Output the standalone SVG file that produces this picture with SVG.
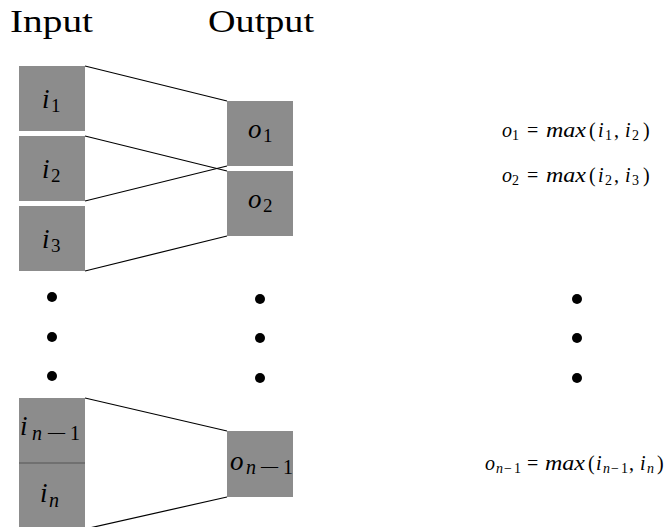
<svg xmlns="http://www.w3.org/2000/svg" width="672" height="527" viewBox="0 0 672 527">
  <style>
    .box { fill: #8c8c8c; }
    .title { font-family: "Liberation Serif", serif; font-size: 32px; fill: #000; }
    .var { font-family: "Liberation Serif", serif; font-style: italic; font-size: 27px; fill: #000; }
    .sub { font-family: "Liberation Serif", serif; font-size: 19px; fill: #000; font-style: normal; }
    .subi { font-family: "Liberation Serif", serif; font-size: 20px; fill: #000; font-style: italic; }
    .eq { font-family: "Liberation Serif", serif; font-size: 20px; fill: #000; }
    .eq .it { font-style: italic; }
    .eq .s { font-size: 14px; }
    .link { stroke: #000; stroke-width: 1.2; fill: none; }
    .dot { fill: #000; }
  </style>
  <rect width="672" height="527" fill="#fff"/>

  <!-- column headings -->
  <text class="title" x="10" y="32" textLength="83" lengthAdjust="spacingAndGlyphs">Input</text>
  <text class="title" x="208" y="32" textLength="106" lengthAdjust="spacingAndGlyphs">Output</text>

  <!-- connectors between inputs and outputs -->
  <g id="connectors">
    <line class="link" x1="85" y1="66" x2="227" y2="101"/>
    <line class="link" x1="85" y1="136" x2="227" y2="171"/>
    <line class="link" x1="85" y1="201" x2="227" y2="166"/>
    <line class="link" x1="85" y1="271" x2="227" y2="236"/>
    <line class="link" x1="85" y1="398" x2="227" y2="431"/>
    <line class="link" x1="85" y1="529" x2="227" y2="497"/>
  </g>

  <!-- input cells -->
  <g id="i1">
    <rect class="box" x="19" y="66" width="66" height="65"/>
    <text class="var" x="42" y="108">i</text>
    <text class="sub" x="51" y="112">1</text>
  </g>
  <g id="i2">
    <rect class="box" x="19" y="136" width="66" height="65"/>
    <text class="var" x="42" y="178">i</text>
    <text class="sub" x="51" y="182">2</text>
  </g>
  <g id="i3">
    <rect class="box" x="19" y="206" width="66" height="65"/>
    <text class="var" x="42" y="248">i</text>
    <text class="sub" x="51" y="252">3</text>
  </g>
  <g id="in-1">
    <rect class="box" x="19" y="398" width="66" height="65"/>
    <text class="var" x="20" y="435">i</text>
    <text class="subi" y="440"><tspan x="32">n</tspan><tspan x="46" font-style="normal" textLength="21" lengthAdjust="spacingAndGlyphs">−</tspan><tspan x="70" font-style="normal">1</tspan></text>
  </g>
  <g id="in">
    <rect class="box" x="19" y="463" width="66" height="66"/>
    <line x1="19" y1="463" x2="85" y2="463" stroke="#555" stroke-width="1"/>
    <text class="var" x="40" y="502">i</text>
    <text class="subi" x="49" y="507">n</text>
  </g>

  <!-- output cells -->
  <g id="o1">
    <rect class="box" x="227" y="101" width="66" height="65"/>
    <text class="var" x="248" y="138">o</text>
    <text class="sub" x="263" y="142">1</text>
  </g>
  <g id="o2">
    <rect class="box" x="227" y="171" width="66" height="65"/>
    <text class="var" x="248" y="208">o</text>
    <text class="sub" x="263" y="212">2</text>
  </g>
  <g id="on-1">
    <rect class="box" x="227" y="431" width="66" height="66"/>
    <text class="var" x="230" y="470">o</text>
    <text class="subi" y="474"><tspan x="246">n</tspan><tspan x="259" font-style="normal" textLength="21" lengthAdjust="spacingAndGlyphs">−</tspan><tspan x="283" font-style="normal">1</tspan></text>
  </g>

  <!-- ellipsis dots -->
  <g id="dots">
    <circle class="dot" cx="52" cy="297" r="5"/>
    <circle class="dot" cx="52" cy="337" r="5"/>
    <circle class="dot" cx="52" cy="376" r="5"/>
    <circle class="dot" cx="260" cy="299" r="5"/>
    <circle class="dot" cx="260" cy="338" r="5"/>
    <circle class="dot" cx="260" cy="378" r="5"/>
    <circle class="dot" cx="577" cy="299" r="5"/>
    <circle class="dot" cx="577" cy="338" r="5"/>
    <circle class="dot" cx="577" cy="378" r="5"/>
  </g>

  <!-- equations -->
  <g id="eq1">
    <text class="eq" y="137"><tspan class="it" x="502">o</tspan><tspan class="s" x="512" dy="3">1</tspan></text>
    <text class="eq" y="137"><tspan x="527">=</tspan><tspan class="it" x="546" textLength="40" lengthAdjust="spacingAndGlyphs">max</tspan><tspan x="589">(</tspan><tspan class="it" x="598">i</tspan><tspan class="s" x="605" dy="3">1</tspan><tspan x="614" dy="-3">,</tspan><tspan class="it" x="625">i</tspan><tspan class="s" x="632" dy="3">2</tspan><tspan x="643" dy="-3">)</tspan></text>
  </g>
  <g id="eq2">
    <text class="eq" y="182"><tspan class="it" x="502">o</tspan><tspan class="s" x="512" dy="3">2</tspan></text>
    <text class="eq" y="182"><tspan x="527">=</tspan><tspan class="it" x="546" textLength="40" lengthAdjust="spacingAndGlyphs">max</tspan><tspan x="589">(</tspan><tspan class="it" x="598">i</tspan><tspan class="s" x="605" dy="3">2</tspan><tspan x="614" dy="-3">,</tspan><tspan class="it" x="625">i</tspan><tspan class="s" x="632" dy="3">3</tspan><tspan x="643" dy="-3">)</tspan></text>
  </g>
  <g id="eq3">
    <text class="eq" y="470"><tspan class="it" x="485">o</tspan><tspan class="s it" x="496" dy="3">n</tspan><tspan class="s" x="504">−</tspan><tspan class="s" x="514">1</tspan></text>
    <text class="eq" y="470"><tspan x="527">=</tspan><tspan class="it" x="545" textLength="40" lengthAdjust="spacingAndGlyphs">max</tspan><tspan x="588">(</tspan><tspan class="it" x="596">i</tspan><tspan class="s it" x="603" dy="3">n</tspan><tspan class="s" x="611">−</tspan><tspan class="s" x="621">1</tspan><tspan x="629" dy="-3">,</tspan><tspan class="it" x="640">i</tspan><tspan class="s it" x="647" dy="3">n</tspan><tspan x="657" dy="-3">)</tspan></text>
  </g>
</svg>
